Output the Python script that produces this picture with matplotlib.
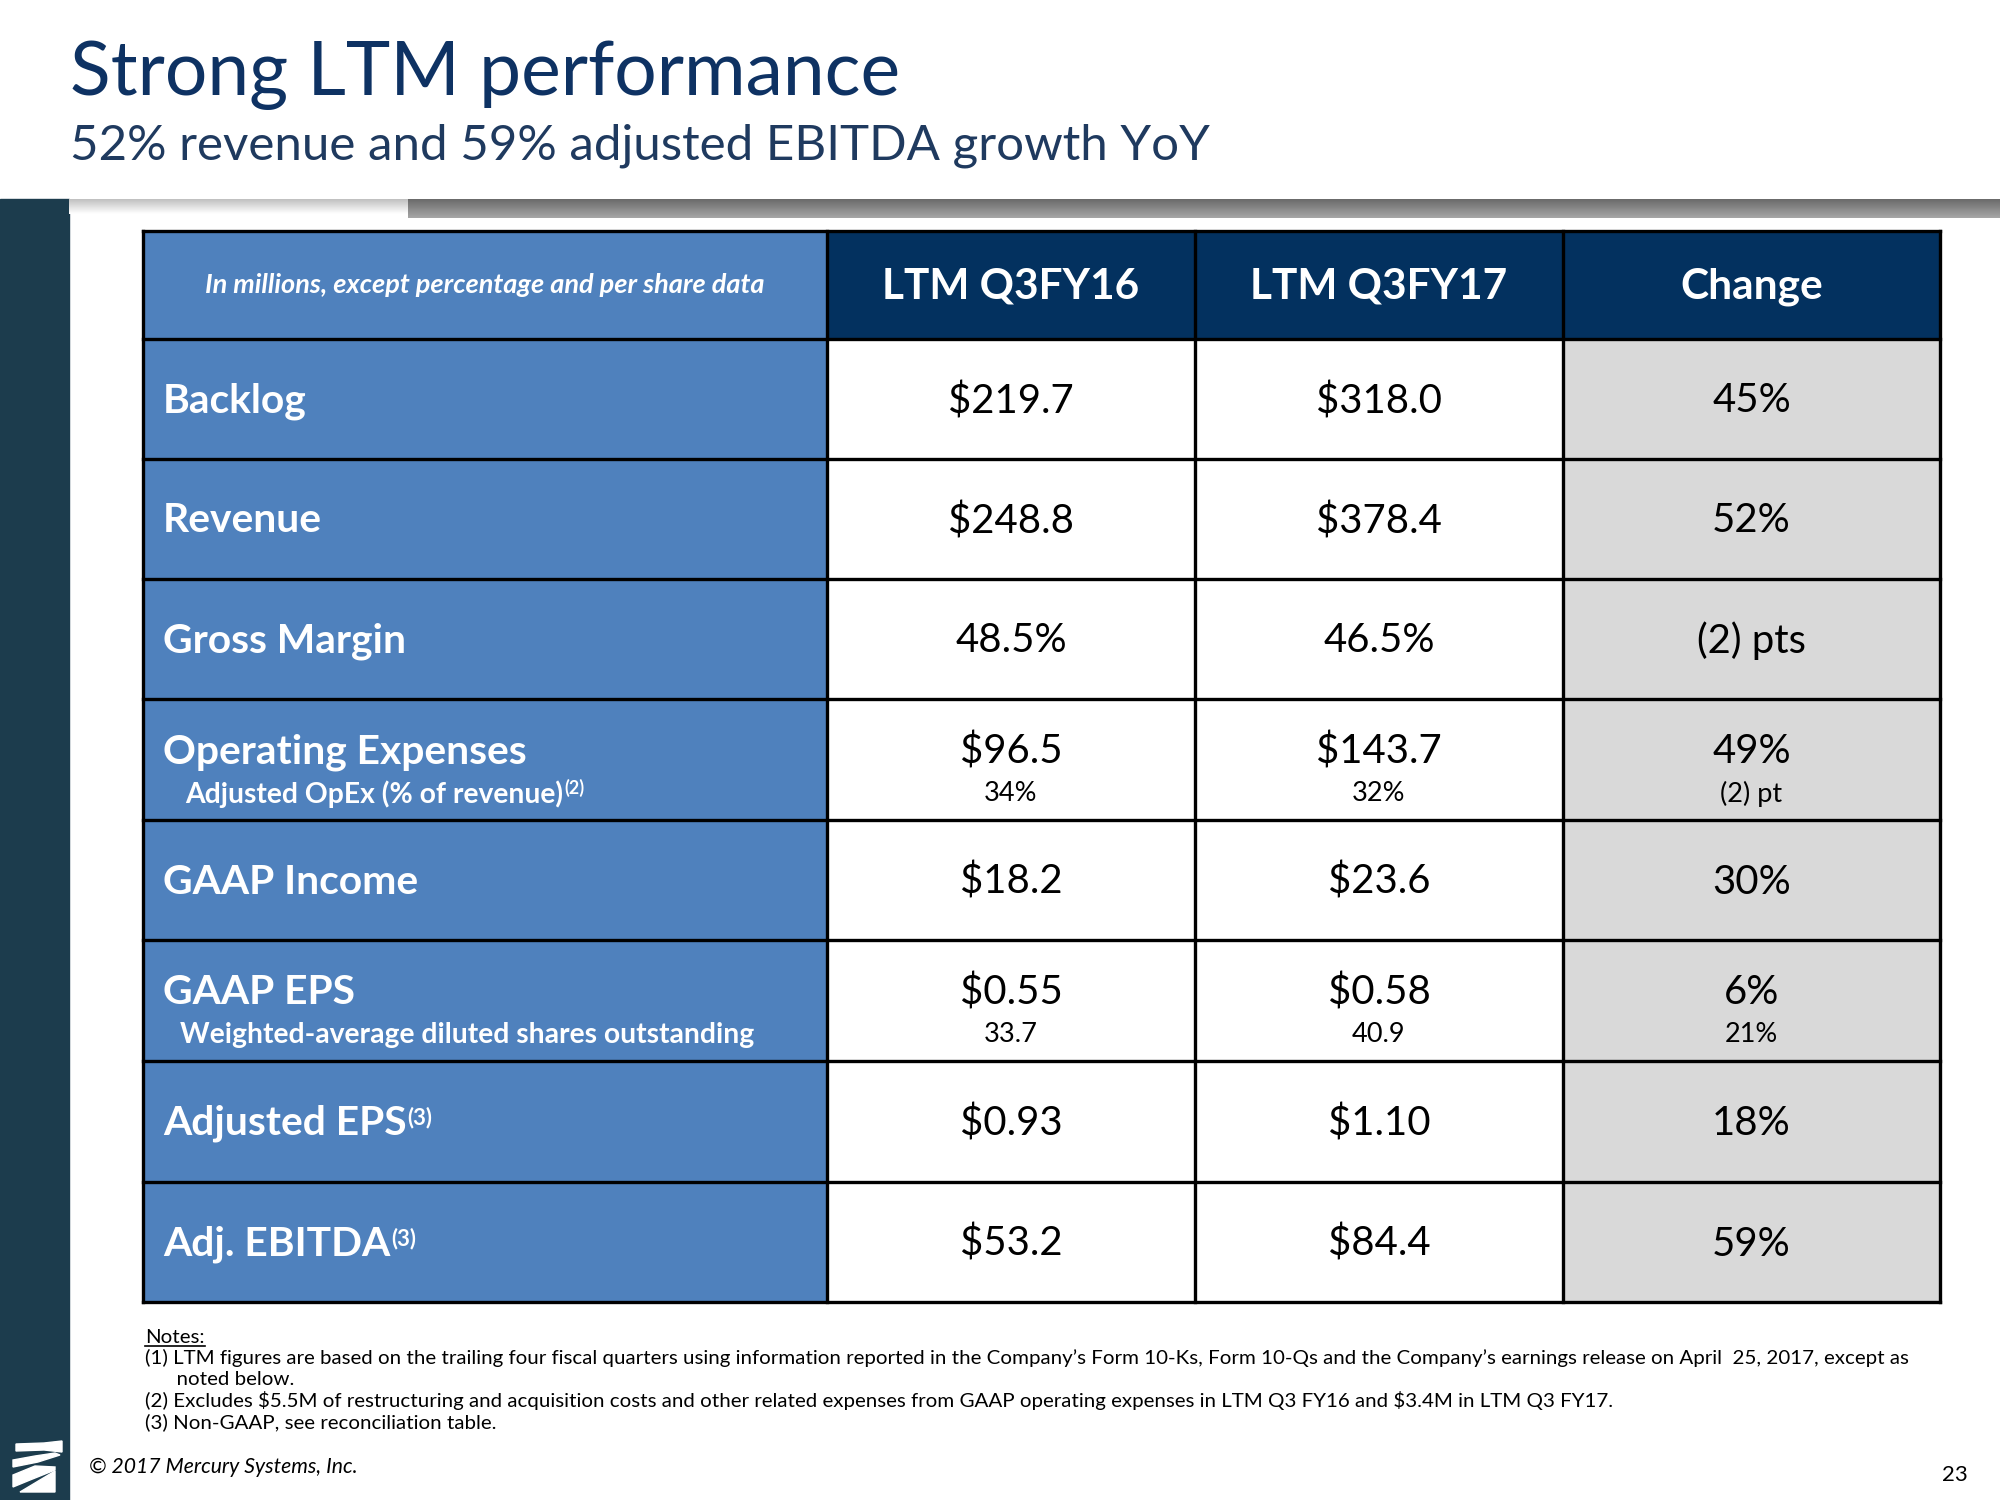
import matplotlib.pyplot as plt
import matplotlib.patches as patches
import numpy as np

plt.rcParams['font.family'] = ['Lato', 'DejaVu Sans']

# table content
header_note = "In millions, except percentage and per share data"
col_headers = ["LTM Q3FY16", "LTM Q3FY17", "Change"]
row_labels = ["Backlog", "Revenue", "Gross Margin", "Operating Expenses",
              "GAAP Income", "GAAP EPS", "Adjusted EPS", "Adj. EBITDA"]
label_refs = ["", "", "", "", "", "", "(3)", "(3)"]
sub_labels = ["", "", "", "Adjusted OpEx (% of revenue)", "",
              "Weighted-average diluted shares outstanding", "", ""]
sub_refs = ["", "", "", "(2)", "", "", "", ""]
ltm_q3fy16 = ["$219.7", "$248.8", "48.5%", "$96.5", "$18.2", "$0.55", "$0.93", "$53.2"]
ltm_q3fy16_sub = ["", "", "", "34%", "", "33.7", "", ""]
ltm_q3fy17 = ["$318.0", "$378.4", "46.5%", "$143.7", "$23.6", "$0.58", "$1.10", "$84.4"]
ltm_q3fy17_sub = ["", "", "", "32%", "", "40.9", "", ""]
change = ["45%", "52%", "(2) pts", "49%", "30%", "6%", "18%", "59%"]
change_sub = ["", "", "", "(2) pt", "", "21%", "", ""]

notes = [
    "(1) LTM figures are based on the trailing four fiscal quarters using information reported in the Company\u2019s Form 10-Ks, Form 10-Qs and the Company\u2019s earnings release on April  25, 2017, except as",
    "      noted below.",
    "(2) Excludes $5.5M of restructuring and acquisition costs and other related expenses from GAAP operating expenses in LTM Q3 FY16 and $3.4M in LTM Q3 FY17.",
    "(3) Non-GAAP, see reconciliation table.",
]

NAVY = "#03315f"
MIDBLUE = "#4f81bd"
GREY = "#d9d9d9"
SIDEBAR = "#1c3c4d"

fig = plt.figure(figsize=(20, 15), dpi=100)
ax = fig.add_axes([0, 0, 1, 1])
ax.set_xlim(0, 2000)
ax.set_ylim(1500, 0)
ax.axis('off')

# side bar and top shading
ax.add_patch(patches.Rectangle((0, 199), 69, 1301, color=SIDEBAR, zorder=1))
grad = np.linspace(0, 1, 30).reshape(-1, 1)
ax.imshow(0.42 + 0.23 * grad, cmap='gray', vmin=0, vmax=1, aspect='auto',
          extent=(408, 2000, 218, 199), zorder=1)
ax.imshow(0.75 + 0.25 * grad, cmap='gray', vmin=0, vmax=1, aspect='auto',
          extent=(69, 408, 214, 199), zorder=1)

# logo
logo_shapes = [
    [(16, 1444), (44, 1443), (62, 1441), (62, 1452), (44, 1450), (16, 1451)],
    [(13, 1460), (35, 1456), (55, 1453), (60, 1455), (38, 1462), (13, 1467)],
    [(13, 1475), (35, 1466), (55, 1467), (55, 1470), (30, 1480), (13, 1487)],
    [(20, 1492), (55, 1492), (55, 1471), (40, 1480)],
]
for pts in logo_shapes:
    ax.add_patch(patches.Polygon(pts, closed=True, color='white', zorder=2))

# titles
ax.text(70, 95, "Strong LTM performance", fontsize=54, color="#0e3263", va='baseline')
ax.text(70, 160, "52% revenue and 59% adjusted EBITDA growth YoY", fontsize=35.5,
        color="#1f3a5f", va='baseline')

# table geometry
col_x = [143, 827, 1195, 1563, 1940]
row_y = [231, 339, 459, 579, 699, 820, 940, 1061, 1182, 1302]

fig.canvas.draw()
renderer = fig.canvas.get_renderer()
inv = ax.transData.inverted()


def right_edge(t):
    bb = t.get_window_extent(renderer)
    return inv.transform((bb.x1, bb.y1))


# header row
header_fill = [MIDBLUE, NAVY, NAVY, NAVY]
for c in range(4):
    ax.add_patch(patches.Rectangle((col_x[c], row_y[0]), col_x[c + 1] - col_x[c],
                                   row_y[1] - row_y[0], facecolor=header_fill[c],
                                   edgecolor='none', zorder=2))
hy = (row_y[0] + row_y[1]) / 2
ax.text((col_x[0] + col_x[1]) / 2, hy, header_note, fontsize=19.5, style='italic',
        fontweight='bold', color='white', ha='center', va='center', zorder=4)
for c, h in enumerate(col_headers):
    ax.text((col_x[c + 1] + col_x[c + 2]) / 2, hy + 2, h, fontsize=30.5, fontweight='bold',
            color='white', ha='center', va='center', zorder=4)

# body rows
body_fill = [MIDBLUE, 'white', 'white', GREY]
value_cols = [(ltm_q3fy16, ltm_q3fy16_sub), (ltm_q3fy17, ltm_q3fy17_sub), (change, change_sub)]
for r in range(len(row_labels)):
    top, bot = row_y[r + 1], row_y[r + 2]
    h = bot - top
    for c in range(4):
        ax.add_patch(patches.Rectangle((col_x[c], top), col_x[c + 1] - col_x[c], h,
                                       facecolor=body_fill[c], edgecolor='none', zorder=2))
    two = sub_labels[r] != ""
    ymain = top + h * (0.42 if two else 0.5) + 2
    ysub = top + h * 0.785
    t = ax.text(163, ymain, row_labels[r], fontsize=29.3, fontweight='bold', color='white',
                va='center', zorder=4, parse_math=False)
    if label_refs[r]:
        x1, y1 = right_edge(t)
        ax.text(x1 + 1, y1 + 2, label_refs[r], fontsize=16, fontweight='bold',
                color='white', va='top', zorder=4)
    if two:
        indent = 185 if r == 3 else 180
        t = ax.text(indent, ysub, sub_labels[r], fontsize=20.3, fontweight='bold',
                    color='white', va='center', zorder=4, parse_math=False)
        if sub_refs[r]:
            x1, y1 = right_edge(t)
            ax.text(x1 + 1, y1 - 1, sub_refs[r], fontsize=13, fontweight='bold',
                    color='white', va='top', zorder=4)
    for c, (vals, subs) in enumerate(value_cols):
        cx = (col_x[c + 1] + col_x[c + 2]) / 2
        ax.text(cx, ymain, vals[r], fontsize=28.9, color='black', ha='center',
                va='center', zorder=4, parse_math=False)
        if subs[r]:
            ax.text(cx, ysub, subs[r], fontsize=19.5, color='black', ha='center',
                    va='center', zorder=4, parse_math=False)

# grid lines
for y in row_y:
    ax.plot([col_x[0], col_x[-1]], [y, y], color='black', lw=2.4, zorder=3,
            solid_capstyle='projecting')
for x in col_x:
    ax.plot([x, x], [row_y[0], row_y[-1]], color='black', lw=2.4, zorder=3,
            solid_capstyle='projecting')

# notes
t = ax.text(145, 1343, "Notes:", fontsize=14.75, color='black', va='baseline')
bb = t.get_window_extent(renderer)
x0n, _ = inv.transform((bb.x0, bb.y0))
x1n, _ = inv.transform((bb.x1, bb.y0))
ax.plot([x0n, x1n], [1346, 1346], color='black', lw=1.2)
for i, line in enumerate(notes):
    ax.text(145, 1364 + 21.3 * i, line, fontsize=14.75, color='black', va='baseline',
            parse_math=False)

# footer
ax.text(89, 1467, "\u00a9 2017 Mercury Systems, Inc.", fontsize=15.2, style='italic',
        color='black', va='center')
ax.text(1968, 1475, "23", fontsize=16, color='black', ha='right', va='center')

fig.savefig("out.png", dpi=100)
